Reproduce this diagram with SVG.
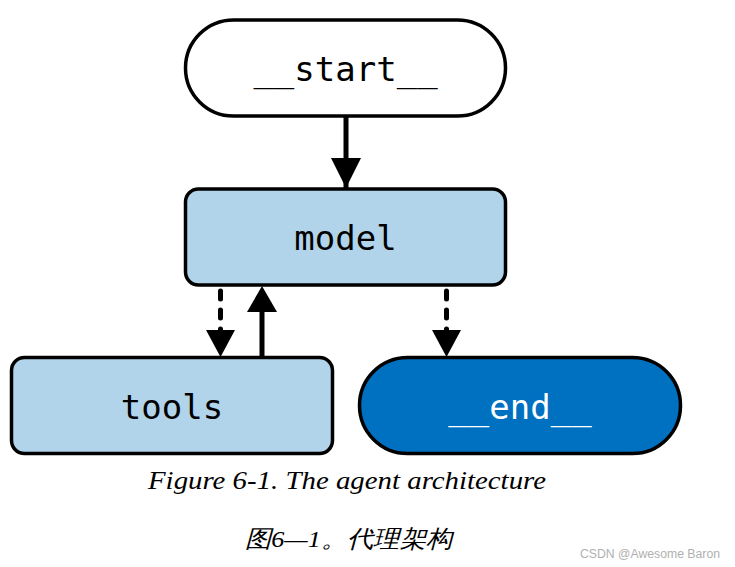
<svg xmlns="http://www.w3.org/2000/svg" width="735" height="567" viewBox="0 0 735 567">
<style>
.node{stroke:#000;stroke-width:3.5}
.lbl{font-family:"DejaVu Sans Mono","Liberation Mono",monospace;font-size:34px;text-anchor:middle}
.edge{stroke:#000;stroke-width:5;fill:none}
.dot{stroke-dasharray:8 11;stroke-linecap:round}
.cap{font-family:"Liberation Serif","DejaVu Serif",serif;font-style:italic}
</style>
<defs>
<marker id="ah" viewBox="0 0 10 10" refX="10" refY="5" markerWidth="6.2" markerHeight="6" markerUnits="strokeWidth" orient="auto">
<path d="M0,0 L10,5 L0,10 Z" fill="#000"/>
</marker>
</defs>
<rect width="735" height="567" fill="#fff"/>
<g id="start">
<rect class="node" x="185.5" y="20" width="320" height="96" rx="48" fill="#fff"/>
<text class="lbl" x="345.5" y="81">__start__</text>
</g>
<g id="model">
<rect class="node" x="185.5" y="189" width="320" height="96" rx="13" fill="#b1d4ea"/>
<text class="lbl" x="345.5" y="250">model</text>
</g>
<g id="tools">
<rect class="node" x="11.5" y="357.5" width="321" height="96" rx="13" fill="#b1d4ea"/>
<text class="lbl" x="172" y="419">tools</text>
</g>
<g id="end">
<rect class="node" x="359.5" y="357.5" width="321" height="96" rx="48" fill="#0070c0"/>
<text class="lbl" x="520" y="419" fill="#fff">__end__</text>
</g>
<g id="connectors">
<path class="edge" d="M346,116 V188" marker-end="url(#ah)"/>
<path class="edge dot" d="M220.5,291 V330"/>
<path d="M206,330 L235,330 L220.5,357 Z" fill="#000"/>
<path class="edge" d="M262,357 V312"/>
<path d="M247,312 L277,312 L262,286 Z" fill="#000"/>
<path class="edge dot" d="M446.5,291 V330"/>
<path d="M432,330 L461,330 L446.5,357 Z" fill="#000"/>
</g>
<text class="cap" x="148" y="489" font-size="25" textLength="398" lengthAdjust="spacingAndGlyphs">Figure 6-1. The agent architecture</text>
<text class="cap" x="245" y="547" font-size="24" font-family="'Liberation Serif','Noto Sans CJK SC',serif" textLength="207" lengthAdjust="spacingAndGlyphs">图6—1。代理架构</text>
<text x="580" y="558" font-family="'Liberation Sans',sans-serif" font-size="12.5" fill="#b0b0b0" textLength="140" lengthAdjust="spacingAndGlyphs">CSDN @Awesome Baron</text>
</svg>
